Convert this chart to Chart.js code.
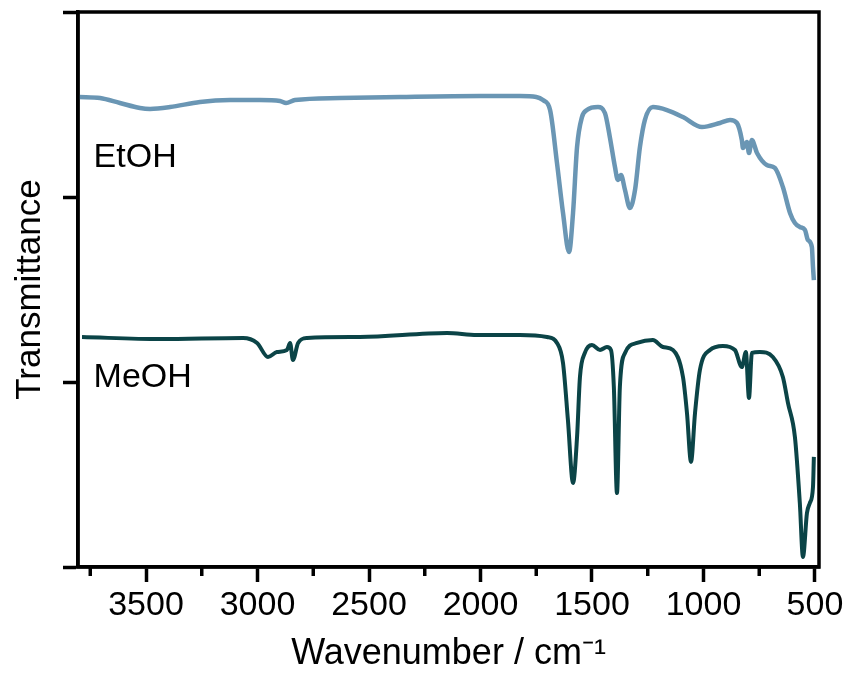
<!DOCTYPE html>
<html>
<head>
<meta charset="utf-8">
<script src="https://cdn.jsdelivr.net/npm/chart.js@4.4.1/dist/chart.umd.min.js"></script>
<style>
  html, body { margin: 0; padding: 0; background: #fff; }
  canvas { display: block; }
</style>
</head>
<body>
<canvas id="c" width="849" height="679"></canvas>
<script>
// ---- data ----
const seriesNames = ['EtOH', 'MeOH'];

const etohWavenumber = [3800,3706,3617,3527,3482,3392,3258,3123,2989,2899,2872,2832,2630,2361,2002,1823,1750,1720,1688,1657,1630,1603,1585,1567,1545,1523,1473,1442,1420,1397,1384,1370,1352,1330,1307,1285,1263,1227,1164,1092,1007,926,881,850,828,823,805,796,783,760,716,680,644,612,590,568,545,532,514,509,505];
const etohTransmittance = [2.541,2.535,2.508,2.481,2.476,2.486,2.514,2.524,2.524,2.519,2.508,2.524,2.535,2.541,2.546,2.546,2.541,2.524,2.470,2.184,1.914,1.703,1.914,2.270,2.432,2.470,2.486,2.454,2.324,2.162,2.092,2.119,2.038,1.941,2.038,2.270,2.416,2.486,2.470,2.432,2.378,2.400,2.416,2.400,2.308,2.265,2.297,2.238,2.308,2.238,2.173,2.157,2.054,1.914,1.859,1.838,1.822,1.768,1.730,1.622,1.551];

const meohWavenumber = [3787,3437,3065,3002,2953,2913,2868,2854,2841,2818,2778,2541,2150,2016,1823,1702,1657,1630,1608,1585,1567,1554,1532,1500,1464,1433,1415,1402,1388,1375,1352,1298,1227,1182,1137,1092,1074,1056,1038,1016,971,913,859,828,810,796,783,747,689,644,621,590,568,554,536,523,509,505];
const meohTransmittance = [1.243,1.232,1.238,1.211,1.135,1.162,1.173,1.211,1.119,1.211,1.238,1.243,1.265,1.254,1.254,1.243,1.211,1.103,0.795,0.454,0.703,1.027,1.157,1.200,1.173,1.189,1.173,0.973,0.400,0.973,1.157,1.211,1.227,1.189,1.173,1.027,0.832,0.568,0.832,1.065,1.173,1.195,1.173,1.081,1.162,0.914,1.157,1.162,1.135,1.027,0.886,0.703,0.346,0.054,0.292,0.346,0.432,0.595];

const xMajorTicks = [3500,3000,2500,2000,1500,1000,500];
const xMinorTicks = [3750,3250,2750,2250,1750,1250,750];
const yTicks = [0,1,2,3];

// ---- chart ----
const FONT = "'Liberation Sans', Arial, sans-serif";
const toPts = (xs, ys) => xs.map((x, i) => ({ x: x, y: ys[i] }));

const framePlugin = {
  id: 'frame',
  afterDraw(chart) {
    const { ctx, chartArea: a, scales } = chart;
    ctx.save();
    ctx.strokeStyle = '#000';
    ctx.lineWidth = 3.5;
    ctx.lineCap = 'butt';
    // minor x ticks
    xMinorTicks.forEach(v => {
      const px = scales.x.getPixelForValue(v);
      ctx.beginPath();
      ctx.moveTo(px, a.bottom);
      ctx.lineTo(px, a.bottom + 9);
      ctx.stroke();
    });
    // box
    ctx.strokeRect(a.left, a.top, a.right - a.left, a.bottom - a.top);
    // series labels
    ctx.fillStyle = '#000';
    ctx.font = '34px ' + FONT;
    ctx.textBaseline = 'alphabetic';
    ctx.textAlign = 'left';
    const lp = chart.options.plugins.frame.labels;
    lp.forEach((p, i) => {
      ctx.fillText(seriesNames[i], scales.x.getPixelForValue(p.x), scales.y.getPixelForValue(p.y));
    });
    ctx.restore();
  }
};

new Chart(document.getElementById('c'), {
  type: 'line',
  data: {
    datasets: [
      {
        label: seriesNames[0],
        data: toPts(etohWavenumber, etohTransmittance),
        borderColor: '#6a96b4',
        borderWidth: 4.5,
        pointRadius: 0,
        cubicInterpolationMode: 'monotone',
        fill: false
      },
      {
        label: seriesNames[1],
        data: toPts(meohWavenumber, meohTransmittance),
        borderColor: '#0b4447',
        borderWidth: 4,
        pointRadius: 0,
        cubicInterpolationMode: 'monotone',
        fill: false
      }
    ]
  },
  options: {
    responsive: false,
    animation: false,
    devicePixelRatio: 1,
    layout: { padding: { top: 12, right: 30, left: 0, bottom: 0 } },
    plugins: {
      legend: { display: false },
      tooltip: { enabled: false },
      frame: { labels: [ { x: 3735, y: 2.162 }, { x: 3735, y: 0.973 } ] }
    },
    scales: {
      x: {
        type: 'linear',
        reverse: true,
        min: 482,
        max: 3805,
        afterBuildTicks: axis => { axis.ticks = xMajorTicks.map(v => ({ value: v })); },
        afterFit: s => { s.height = 112; },
        border: { display: true, color: '#000', width: 3.5 },
        grid: { drawOnChartArea: false, drawTicks: true, tickLength: 15, tickWidth: 3.5, tickColor: '#000' },
        ticks: { color: '#000', font: { family: FONT, size: 34 }, padding: 3, maxRotation: 0, autoSkip: false,
                 callback: v => String(v) },
        title: { display: true, text: 'Wavenumber / cm\u207B\u00B9', color: '#000',
                 font: { family: FONT, size: 36 }, padding: { top: 0, bottom: 3 } }
      },
      y: {
        type: 'linear',
        min: 0,
        max: 3,
        afterBuildTicks: axis => { axis.ticks = yTicks.map(v => ({ value: v })); },
        afterFit: s => { s.width = 78; },
        border: { display: true, color: '#000', width: 3.5 },
        grid: { drawOnChartArea: false, drawTicks: true, tickLength: 15, tickWidth: 3.5, tickColor: '#000' },
        ticks: { display: false },
        title: { display: true, text: 'Transmittance', color: '#000',
                 font: { family: FONT, size: 35 }, padding: { top: 9, bottom: 0 } }
      }
    }
  },
  plugins: [framePlugin]
});
</script>
</body>
</html>
